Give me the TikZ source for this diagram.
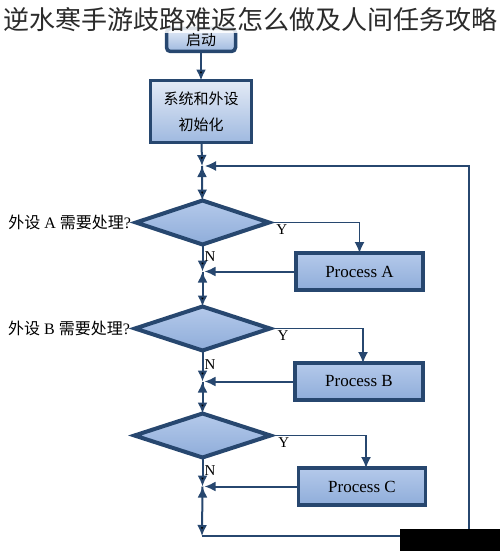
\documentclass[tikz,border=0pt]{standalone}
\usepackage{fontspec}
\setmainfont{Liberation Serif}
\newfontfamily\cjk{Noto Sans CJK SC}
\usetikzlibrary{arrows.meta,positioning,shapes.geometric}
\definecolor{navy}{HTML}{27476F}
\definecolor{boxtop}{HTML}{E4EBF6}
\definecolor{boxbot}{HTML}{9FB9E0}
\definecolor{proctop}{HTML}{B4C9EA}
\definecolor{procbot}{HTML}{8FADDA}
\definecolor{titlegray}{HTML}{2B2B2B}
\begin{document}
\begin{tikzpicture}[x=1pt,y=-1pt,>={Latex[length=11pt,width=10pt]},every node/.append style={align=center, outer sep=0pt},
  init/.style={rectangle, draw=navy, line width=3.5pt, top color=boxtop, bottom color=boxbot, inner sep=0pt},
  proc/.style={rectangle, draw=navy, line width=3.5pt, top color=proctop, bottom color=procbot, minimum width=127pt, minimum height=37pt, inner sep=0pt, font=\fontsize{17}{20}\selectfont},
  dec/.style={diamond, draw=navy, line width=4pt, top color=proctop, bottom color=procbot, minimum width=133pt, minimum height=44pt, inner sep=0pt},
  conn/.style={->, draw=navy, line width=2pt},
  ybranch/.style={->, draw=navy, line width=1.6pt},
  loopline/.style={->, draw=navy, line width=1.4pt},
  lbl/.style={inner sep=2pt, font=\fontsize{15}{18}\selectfont},
]
    \useasboundingbox (0,0) rectangle (500,551);
    \node [init, rounded corners=4pt, minimum width=69pt, minimum height=23pt, font=\cjk\fontsize{15}{18}\selectfont] (start) at (201,40) {启动};
    \node [init, below=29pt of start, minimum width=101pt, minimum height=62pt, font=\cjk\fontsize{15}{26}\selectfont] (sysinit) {系统和外设\\初始化};
    \node [dec, below=58pt of sysinit, xshift=1.5pt] (decA) {};
    \node [proc, right=27pt of decA, yshift=-49pt] (procA) {Process A};
    \node [dec, below=62pt of decA, minimum width=135pt] (decB) {};
    \node [proc, right=25pt of decB, yshift=-53pt, minimum width=128pt] (procB) {Process B};
    \node [dec, below=63pt of decB, minimum width=136pt] (decC) {};
    \node [proc, right=28pt of decC, yshift=-51pt] (procC) {Process C};
    \node [lbl, left=5pt of decA, inner sep=0pt, font=\fontsize{16}{18}\selectfont] (askA) {{\cjk 外设} A {\cjk 需要处理}?};
    \node [lbl, left=5pt of decB, inner sep=0pt, font=\fontsize{16}{18}\selectfont] (askB) {{\cjk 外设} B {\cjk 需要处理}?};
    \coordinate (loopin) at (202,166);
    \coordinate (jA) at (decA |- procA.west);
    \coordinate (jB) at (decB |- procB.west);
    \coordinate (jC) at (decC |- procC.west);
    \coordinate (loopbot) at (202,536);
    \coordinate (ret) at (469,166);
    % main line
    \path[conn] (start) edge (sysinit);
    \path[conn] (sysinit) edge (loopin);
    \path[conn] (loopin) edge (decA);
    \path[conn] (decA) edge node [lbl, right, pos=0.45] {N} (jA);
    \path[conn] (jA) edge (decB);
    \path[conn] (decB) edge node [lbl, right, pos=0.45] {N} (jB);
    \path[conn] (jB) edge (decC);
    \path[conn] (decC) edge node [lbl, right, pos=0.45] {N} (jC);
    \path[conn] (jC) edge (loopbot);
    % yes branches
    \draw[ybranch] (decA.east) -| node [lbl, below, pos=0.07] {Y} (procA.north);
    \draw[ybranch] (decB.east) -| node [lbl, below, pos=0.07] {Y} ([xshift=4pt]procB.north);
    \draw[ybranch] (decC.east) -| node [lbl, below, pos=0.07] {Y} ([xshift=4pt]procC.north);
    \draw[conn, shorten >=2pt] (procA.west) -- (jA);
    \draw[conn, shorten >=2pt] (procB.west) -- (jB);
    \draw[conn, shorten >=2pt] (procC.west) -- (jC);
    % loop back
    \draw[loopline, shorten >=3pt] (loopbot) -| (ret) -- (loopin);
    \node [fill=white, fill opacity=0.85, text opacity=1, inner sep=0pt, minimum height=26pt, text=titlegray, font=\cjk\fontsize{26}{28}\selectfont] (title) at (250,20) {逆水寒手游歧路难返怎么做及人间任务攻略};
    \fill[black] (400,529) rectangle (500,551);
\end{tikzpicture}
\end{document}
